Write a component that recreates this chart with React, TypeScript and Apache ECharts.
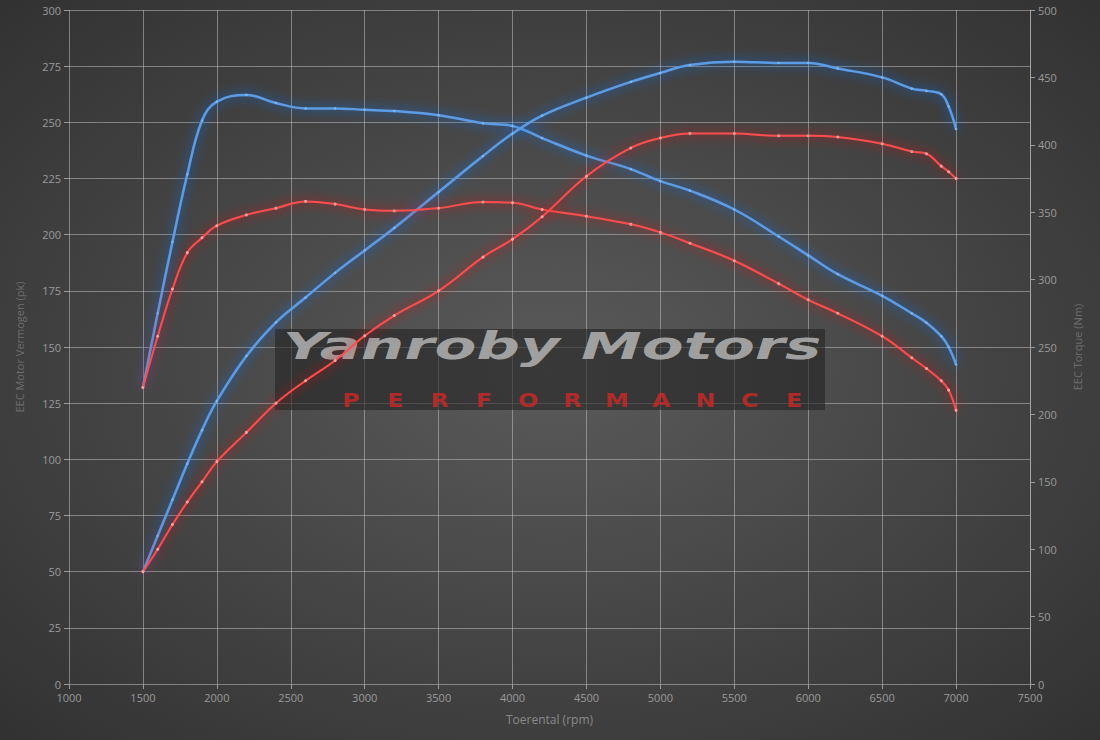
import React, { useEffect, useRef } from "react";
import * as echarts from "echarts";

// Engine speed (rpm) sample points
const rpm = [1500, 1600, 1700, 1800, 1900, 2000, 2200, 2400, 2600, 2800, 3000, 3200, 3500, 3800, 4000, 4200, 4500, 4800, 5000, 5200, 5500, 5800, 6000, 6200, 6500, 6700, 6800, 6900, 6950, 7000];

// Tuned (blue) power in pk
const tunedPower = [50, 66, 82, 98, 113, 126, 146, 161, 172, 183, 193, 203, 219, 235, 245, 253, 261, 268, 272, 275.5, 277, 276.4, 276.4, 274, 270, 265, 264, 262.5, 257, 247];
// Tuned (blue) torque in Nm
const tunedTorque = [220, 275, 328, 378, 418, 432, 437, 431, 427, 427, 426, 425, 422, 416, 414, 405, 392, 382, 373, 366, 352, 332, 318, 304, 288, 275, 268, 258, 250, 237];
// Stock (red) power in pk
const stockPower = [50, 60, 71, 81, 90, 99, 112, 125, 135, 144, 155, 164, 175, 190, 198, 208, 226, 238.6, 243, 245, 245, 244, 244, 243.5, 240.5, 237, 236, 230.5, 228, 225];
// Stock (red) torque in Nm
const stockTorque = [220, 258, 293, 320, 331, 340, 348, 353, 358, 356, 352, 351, 353, 357.5, 357, 352, 347, 341, 335, 327, 314, 297, 285, 275, 258, 242, 234, 225, 218, 203];

const xName = "Toerental (rpm)";
const yLeftName = "EEC Motor Vermogen (pk)";
const yRightName = "EEC Torque (Nm)";
const brandTitle = "Yanroby Motors";
const brandSub = "PERFORMANCE";

const pairs = (vals: number[]) => rpm.map((r, i) => [r, vals[i]]);

export default function App() {
  const ref = useRef<HTMLDivElement>(null);
  useEffect(() => {
    document.body.style.margin = "0";
    if (!ref.current) return;
    const chart = echarts.init(ref.current, undefined, { renderer: "svg" });
    const labelStyle = { color: "#9a9a9a", fontSize: 11, fontFamily: "Open Sans, sans-serif" };
    const tick = { show: true, inside: false, length: 5, lineStyle: { color: "#9a9a9a" } };
    const split = { show: true, lineStyle: { color: "rgba(190,190,190,0.55)", width: 1 } };

    const subLetters = brandSub.split("").map((ch, i) => ({
      type: "text",
      x: 351 + i * 44.3,
      y: 400,
      z: 1,
      scaleX: 1.25,
      style: {
        text: ch,
        fill: "rgba(200,40,40,0.85)",
        fontSize: 19,
        fontWeight: "bold",
        fontFamily: "DejaVu Sans, sans-serif",
        textAlign: "center",
        textVerticalAlign: "middle",
        align: "center",
        verticalAlign: "middle",
        shadowColor: "rgba(220,40,40,0.9)",
        shadowBlur: 3,
      },
    }));

    const blueLine = (data: number[][], axis: number, name: string) => ({
      type: "line",
      name,
      yAxisIndex: axis,
      data,
      smooth: 0.4,
      symbol: "circle",
      symbolSize: 2.5,
      showSymbol: true,
      itemStyle: { color: "#7fb6f0" },
      lineStyle: { color: "#5a9de6", width: 2.5, shadowColor: "#1f74ff", shadowBlur: 12 },
      z: 3,
    });
    const redLine = (data: number[][], axis: number, name: string) => ({
      type: "line",
      name,
      yAxisIndex: axis,
      data,
      smooth: 0.4,
      symbol: "circle",
      symbolSize: 3,
      showSymbol: true,
      itemStyle: { color: "#ffa0a0" },
      lineStyle: { color: "#ff4c4c", width: 2, shadowColor: "#ff0000", shadowBlur: 12 },
      z: 4,
    });

    chart.setOption({
      animation: false,
      backgroundColor: {
        type: "radial",
        x: 0.5,
        y: 0.5,
        r: 0.75,
        colorStops: [
          { offset: 0, color: "#5a5a5a" },
          { offset: 1, color: "#2f2f2f" },
        ],
      },
      grid: { left: 69, right: 70, top: 10, bottom: 56, containLabel: false },
      xAxis: {
        type: "value",
        min: 1000,
        max: 7500,
        interval: 500,
        name: xName,
        nameLocation: "middle",
        nameGap: 29,
        nameTextStyle: { color: "#8a8a8a", fontSize: 12, fontFamily: "Open Sans, sans-serif" },
        axisLine: { show: false },
        axisTick: tick,
        axisLabel: { ...labelStyle, margin: 8, formatter: (v: number) => String(v) },
        splitLine: split,
      },
      yAxis: [
        {
          type: "value",
          min: 0,
          max: 300,
          interval: 25,
          name: yLeftName,
          nameLocation: "middle",
          nameGap: 44,
          nameTextStyle: { color: "#6e6e6e", fontSize: 11, fontFamily: "Open Sans, sans-serif" },
          axisLine: { show: false },
          axisTick: tick,
          axisLabel: { ...labelStyle, margin: 8 },
          splitLine: split,
        },
        {
          type: "value",
          min: 0,
          max: 500,
          interval: 50,
          position: "right",
          name: yRightName,
          nameLocation: "middle",
          nameGap: 42,
          nameTextStyle: { color: "#6e6e6e", fontSize: 11, fontFamily: "Open Sans, sans-serif" },
          axisLine: { show: true, lineStyle: { color: "rgba(190,190,190,0.55)" } },
          axisTick: tick,
          axisLabel: { ...labelStyle, margin: 8 },
          splitLine: { show: false },
        },
      ],
      graphic: {
        elements: [
          {
            type: "rect",
            z: 1,
            shape: { x: 275, y: 329, width: 550, height: 81 },
            style: { fill: "rgba(35,35,35,0.6)" },
          },
          {
            type: "text",
            x: 552,
            y: 346,
            z: 1,
            scaleX: 1.65,
            style: {
              text: brandTitle,
              fill: "rgba(175,175,175,0.9)",
              fontSize: 37,
              fontWeight: "bold",
              fontStyle: "italic",
              fontFamily: "DejaVu Sans, sans-serif",
              textAlign: "center",
              textVerticalAlign: "middle",
              align: "center",
              verticalAlign: "middle",
            },
          },
          ...subLetters,
        ],
      },
      series: [
        redLine(pairs(stockTorque), 1, "Stock torque"),
        redLine(pairs(stockPower), 0, "Stock power"),
        blueLine(pairs(tunedTorque), 1, "Tuned torque"),
        blueLine(pairs(tunedPower), 0, "Tuned power"),
      ],
    });
    return () => chart.dispose();
  }, []);
  return <div ref={ref} style={{ width: 1100, height: 740, position: "absolute", left: 0, top: 0 }} />;
}
